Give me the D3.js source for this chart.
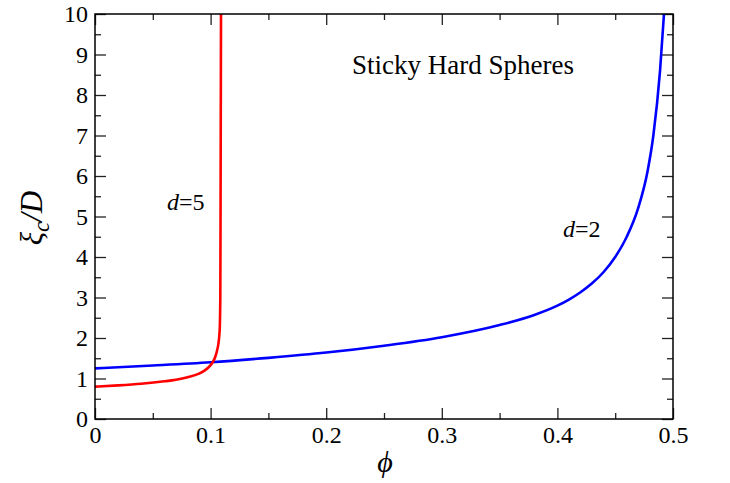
<!DOCTYPE html>
<html>
<head>
<meta charset="utf-8">
<script src="https://cdn.jsdelivr.net/npm/d3@7"></script>
<style>
  body { margin: 0; background: #fff; }
  svg text { font-family: "Liberation Serif", "Times New Roman", serif; }
</style>
</head>
<body>
<script>
// values
var phiRed = [0, 0.02, 0.04, 0.06, 0.07, 0.08, 0.09, 0.095, 0.100, 0.102, 0.104, 0.1055, 0.1067, 0.1075, 0.108, 0.1084, 0.1086, 0.1088, 0.109];
var xiRed  = [0.80, 0.83, 0.87, 0.93, 0.97, 1.03, 1.12, 1.20, 1.33, 1.41, 1.53, 1.68, 1.85, 2.05, 2.3, 3.0, 5.0, 7.5, 10];

var phiBlue = [0, 0.05, 0.1, 0.15, 0.2, 0.25, 0.3, 0.35, 0.38, 0.4, 0.41, 0.42, 0.43, 0.44, 0.45, 0.46, 0.47, 0.478, 0.483, 0.4888, 0.4922];
var xiBlue  = [1.25, 1.32, 1.40, 1.51, 1.64, 1.81, 2.02, 2.32, 2.57, 2.80, 2.95, 3.13, 3.35, 3.63, 4.00, 4.50, 5.22, 6.12, 7.0, 8.6, 10];

var xTicks = [0, 0.1, 0.2, 0.3, 0.4, 0.5];
var xMinor = [0.05, 0.15, 0.25, 0.35, 0.45];
var yTicks = [0, 1, 2, 3, 4, 5, 6, 7, 8, 9, 10];
var yMinor = [0.5, 1.5, 2.5, 3.5, 4.5, 5.5, 6.5, 7.5, 8.5, 9.5];

var width = 730, height = 483;
var margin = {left: 95, right: 57, top: 14, bottom: 64};
var w = width - margin.left - margin.right,
    h = height - margin.top - margin.bottom;

var svg = d3.select("body").append("svg")
    .attr("width", width)
    .attr("height", height);

var g = svg.append("g")
    .attr("transform", "translate(" + margin.left + "," + margin.top + ")");

var x = d3.scaleLinear().domain([0, 0.5]).range([0, w]);
var y = d3.scaleLinear().domain([0, 10]).range([h, 0]);

// major + minor ticks on all four sides, pointing inward
function styleAxis(sel){
    sel.attr("font-family", null);
    sel.select(".domain").remove();
    sel.selectAll("line").attr("stroke", "#222").attr("stroke-width", 1.3);
    sel.selectAll("text").attr("fill", "#000")
        .style("font-size", "24px")
        .style("font-family", "'Liberation Serif', 'Times New Roman', serif");
}

var fmtX = function(d){ return d === 0 ? "0" : d3.format(".1f")(d); };

g.append("g").attr("transform", "translate(0," + h + ")")
    .call(d3.axisBottom(x).tickValues(xTicks).tickFormat(fmtX).tickSize(-11).tickPadding(7))
    .call(styleAxis);
g.append("g").attr("transform", "translate(0," + h + ")")
    .call(d3.axisBottom(x).tickValues(xMinor).tickFormat("").tickSize(-6))
    .call(styleAxis);
g.append("g")
    .call(d3.axisTop(x).tickValues(xTicks).tickFormat("").tickSize(-11))
    .call(styleAxis);
g.append("g")
    .call(d3.axisTop(x).tickValues(xMinor).tickFormat("").tickSize(-6))
    .call(styleAxis);

g.append("g")
    .call(d3.axisLeft(y).tickValues(yTicks).tickFormat(d3.format("d")).tickSize(-11).tickPadding(7))
    .call(styleAxis);
g.append("g")
    .call(d3.axisLeft(y).tickValues(yMinor).tickFormat("").tickSize(-6))
    .call(styleAxis);
g.append("g").attr("transform", "translate(" + w + ",0)")
    .call(d3.axisRight(y).tickValues(yTicks).tickFormat("").tickSize(-11))
    .call(styleAxis);
g.append("g").attr("transform", "translate(" + w + ",0)")
    .call(d3.axisRight(y).tickValues(yMinor).tickFormat("").tickSize(-6))
    .call(styleAxis);

// curves
var line = d3.line()
    .x(function(d){ return x(d[0]); })
    .y(function(d){ return y(d[1]); })
    .curve(d3.curveMonotoneX);

g.append("path")
    .datum(d3.zip(phiBlue, xiBlue))
    .attr("fill", "none")
    .attr("stroke", "#0000ff")
    .attr("stroke-width", 2.6)
    .attr("d", line);

g.append("path")
    .datum(d3.zip(phiRed, xiRed))
    .attr("fill", "none")
    .attr("stroke", "#ff0000")
    .attr("stroke-width", 2.6)
    .attr("d", line);

// frame
g.append("rect")
    .attr("width", w).attr("height", h)
    .attr("fill", "none")
    .attr("stroke", "#000")
    .attr("stroke-width", 1.5);

// texts
svg.append("text")
    .attr("x", 352).attr("y", 74)
    .attr("font-size", 27)
    .text("Sticky Hard Spheres");

var d5 = svg.append("text").attr("x", 167).attr("y", 210).attr("font-size", 24);
d5.append("tspan").attr("font-style", "italic").text("d");
d5.append("tspan").text("=5");

var d2 = svg.append("text").attr("x", 563).attr("y", 237).attr("font-size", 24);
d2.append("tspan").attr("font-style", "italic").text("d");
d2.append("tspan").text("=2");

svg.append("text")
    .attr("x", 385).attr("y", 472)
    .attr("text-anchor", "middle")
    .attr("font-size", 30)
    .attr("font-style", "italic")
    .text("\u03D5");

var yl = svg.append("text")
    .attr("transform", "translate(42,218) rotate(-90)")
    .attr("text-anchor", "middle")
    .attr("font-size", 31)
    .attr("font-style", "italic");
yl.append("tspan").text("\u03BE");
yl.append("tspan").attr("dy", 7).attr("font-size", 23).text("c");
yl.append("tspan").attr("dy", -7).text("/D");
</script>
</body>
</html>
